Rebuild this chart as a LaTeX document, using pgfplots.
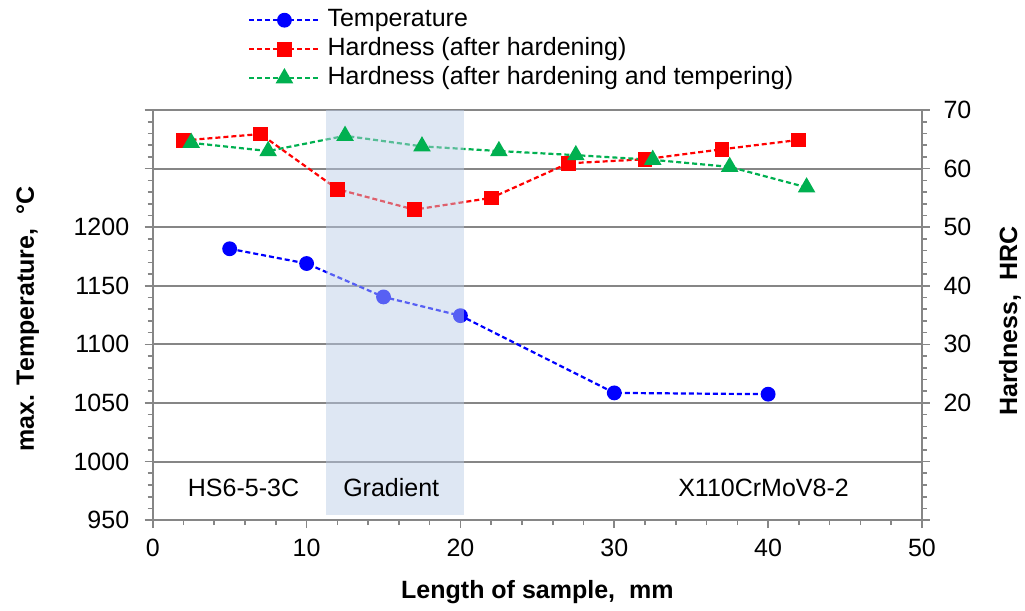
\documentclass[border=0pt]{standalone}
\usepackage{fontspec}
\setmainfont{Liberation Sans}
\usepackage{pgfplots}
\pgfplotsset{compat=1.18}
\definecolor{gridgray}{RGB}{134,134,134}
\definecolor{mgreen}{RGB}{0,176,80}
\definecolor{shadecol}{RGB}{185,204,230}
\pgfplotsset{
  base/.style={
    width=769pt, height=410pt, scale only axis,
    xmin=0, xmax=50,
    font=\fontsize{25}{30}\selectfont,
    /pgf/number format/assume math mode=true,
    /pgf/number format/1000 sep={},
    tick label style={font=\fontsize{25}{30}\selectfont},
    axis line style={gridgray, line width=2pt},
    every tick/.style={gridgray, line width=1.6pt},
    tick align=outside,
    major tick length=8pt, minor tick length=5pt,
  },
  dsh/.style={dash pattern=on 5pt off 3pt, line width=2.2pt},
}
\begin{document}
\begin{tikzpicture}
\begin{axis}[base, name=ax1,
  axis x line*=bottom, axis y line*=left,
  ymin=950, ymax=1300,
  xtick={0,10,...,50}, minor x tick num=4,
  ytick={950,1000,...,1300},
  yticklabels={950,1000,1050,1100,1150,1200,{},{}},
  minor y tick num=4,
  yticklabel style={xshift=-12pt},
  xticklabel style={yshift=-7pt},
  ymajorgrids, major grid style={gridgray, line width=2pt},
  xlabel={\bfseries Length of sample,\ \ mm},
  ylabel={\bfseries max. Temperature,\ \ °C},
  every axis x label/.style={at={(axis description cs:0.5,0)}, anchor=center, yshift=-72pt},
  every axis y label/.style={at={(axis description cs:0,0.49)}, xshift=-125pt, anchor=center, rotate=90},
  legend image code/.code={\draw[mark repeat=2,mark phase=2,#1] plot coordinates {(0pt,0pt) (35pt,0pt) (70pt,0pt)};},
  legend cell align=left,
  legend style={at={(axis description cs:0.124,1)}, anchor=north west, yshift=104.5pt,
    draw=none, fill=none, inner sep=0pt, font=\fontsize{25}{29}\selectfont,
    nodes={inner sep=1pt, text height=20pt, text depth=7pt}, column sep=6pt},
]
\addplot[blue, dsh, mark=*, mark size=6.3pt, mark options={solid}] coordinates {
(5,1181.6) (10,1169) (15,1140.5) (20,1124.5) (30,1058.6) (40,1057.5)};
\addlegendentry{Temperature}
\addlegendimage{red, dsh, mark=square*, mark size=6.3pt, mark options={solid}}
\addlegendentry{Hardness (after hardening)}
\addlegendimage{mgreen, dsh, mark=triangle*, mark size=8pt, mark options={solid}}
\addlegendentry{Hardness (after hardening and tempering)}
\end{axis}
\begin{axis}[base,
  axis x line=none, axis y line*=right,
  ymin=0, ymax=70,
  ytick={0,10,...,70}, yticklabels={{},{},20,30,40,50,60,70},
  minor y tick num=4,
  yticklabel style={xshift=10pt},
  ylabel={\bfseries Hardness,\ \ HRC},
  every axis y label/.style={at={(axis description cs:1,0.485)}, xshift=88pt, anchor=center, rotate=90},
]
\addplot[red, dsh, mark=square*, mark size=6.3pt, mark options={solid}] coordinates {
(2,64.8) (7,65.9) (12,56.5) (17,53.0) (22,55.0) (27,60.9) (32,61.6) (37,63.3) (42,64.9)};
\addplot[mgreen, dsh, mark=triangle*, mark size=8pt, mark options={solid}] coordinates {
(2.5,64.4) (7.5,63.0) (12.5,65.6) (17.5,63.8) (22.5,63.0) (27.5,62.3) (32.5,61.5) (37.5,60.3) (42.5,56.8)};
\fill[shadecol, opacity=0.47] (axis cs:11.25,0.8) rectangle (axis cs:20.2,70);
\node[anchor=center] at (axis cs:5.9,5.5) {HS6-5-3C};
\node[anchor=center] at (axis cs:15.5,5.5) {Gradient};
\node[anchor=center] at (axis cs:39.7,5.5) {X110CrMoV8-2};
\end{axis}
\path ([xshift=-152.7pt,yshift=-90pt]ax1.south west) rectangle ([xshift=103pt,yshift=110pt]ax1.north east);
\end{tikzpicture}
\end{document}
